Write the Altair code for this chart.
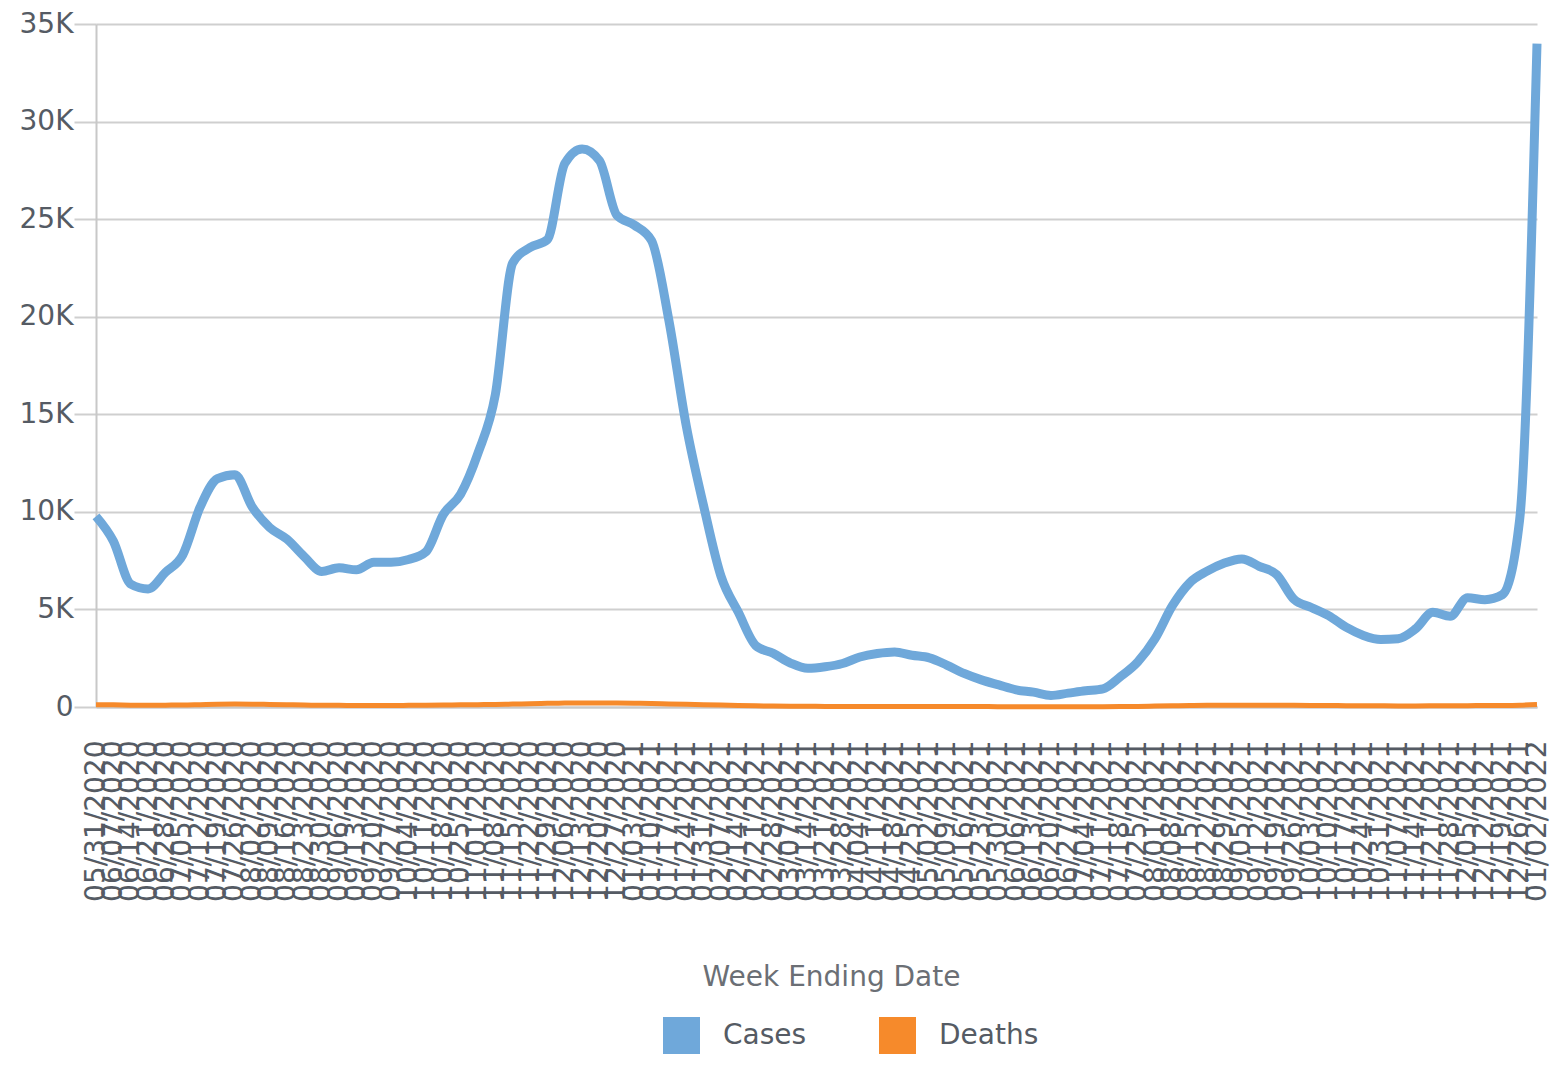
import altair as alt
import pandas as pd

# Week-ending dates (weekly categories)
weeks = [d.strftime("%m/%d/%Y") for d in pd.date_range("2020-05-31", periods=84, freq="7D")]

cases = [9770, 8500, 6300, 6050, 6900, 7800, 10250, 11700, 11900, 10250,
         9200, 8600, 7700, 6950, 7130, 7030, 7420, 7420, 7560, 7950,
         9860, 10900, 13000, 16000, 22750, 23550, 23950, 27850, 28600, 28000,
         25200, 24700, 23900, 19800, 14400, 10300, 6700, 4850, 3150, 2750,
         2250, 1980, 2060, 2230, 2560, 2740, 2820, 2650, 2520, 2150,
         1720, 1390, 1130, 880, 760, 590, 710, 830, 930, 1550,
         2310, 3500, 5190, 6370, 6960, 7380, 7590, 7210, 6790, 5520,
         5100, 4680, 4090, 3670, 3460, 3500, 4000, 4850, 4650, 5600,
         5500, 5750, 9600, 34000]

deaths = [120, 110, 95, 90, 95, 100, 120, 140, 150, 145,
          130, 115, 100, 90, 85, 80, 80, 80, 85, 90,
          100, 110, 120, 130, 150, 170, 190, 200, 210, 210,
          200, 190, 180, 160, 140, 120, 100, 80, 60, 50,
          40, 35, 30, 30, 30, 30, 30, 30, 28, 25,
          22, 20, 18, 15, 12, 10, 10, 12, 15, 20,
          30, 45, 60, 75, 85, 90, 95, 95, 90, 85,
          80, 75, 70, 65, 60, 55, 55, 60, 65, 70,
          75, 80, 95, 130]

series_names = ["Cases", "Deaths"]
series_colors = ["#6fa8da", "#f68a2b"]
y_ticks = [0, 5000, 10000, 15000, 20000, 25000, 30000, 35000]

df = pd.DataFrame({"week": weeks, "Cases": cases, "Deaths": deaths})

FONT = "DejaVu Sans"
LABEL = "#555b64"
GRID = "#cfcfcf"

xscale = alt.Scale(type="point", padding=0)
yscale = alt.Scale(domain=[0, 35000])

xaxis = alt.Axis(
    title="Week Ending Date", labelAngle=-90, labelOverlap=False, ticks=False,
    labelPadding=33, labelFontSize=28, labelColor=LABEL, labelFont=FONT,
    titleFont=FONT, titleFontSize=28, titleFontWeight="normal", titleColor="#6b6f75",
    titleY=278, titleBaseline="alphabetic", titleX=735,
    domainColor="#c8c8c8", domainWidth=2, grid=False,
)

yaxis = alt.Axis(
    title=None, values=y_ticks,
    labelExpr="datum.value == 0 ? '0' : (datum.value / 1000) + 'K'",
    tickSize=22, tickColor=GRID, tickWidth=2, labelPadding=1,
    labelFontSize=28, labelFont=FONT, labelColor=LABEL,
    gridColor=GRID, gridWidth=2, domainColor="#c8c8c8", domainWidth=2,
)

base = alt.Chart(df)

legend_layer = base.transform_fold(
    series_names, as_=["series", "value"]
).mark_square(size=0, opacity=1).encode(
    x=alt.X("week:O", sort=weeks, scale=xscale, axis=xaxis),
    y=alt.Y("value:Q", scale=yscale, axis=yaxis),
    color=alt.Color(
        "series:N",
        scale=alt.Scale(domain=series_names, range=series_colors),
        legend=alt.Legend(
            title=None, orient="none", legendX=567, legendY=993,
            direction="horizontal", symbolType="square", symbolSize=1369,
            symbolStrokeWidth=0, labelFontSize=28, labelFont=FONT,
            labelColor=LABEL, labelOffset=23, columnPadding=72, padding=0,
        ),
    ),
)

cases_line = base.mark_line(
    color=series_colors[0], strokeWidth=9, interpolate="monotone"
).encode(
    x=alt.X("week:O", sort=weeks, scale=xscale, axis=xaxis),
    y=alt.Y("Cases:Q", scale=yscale, axis=yaxis),
)

deaths_line = base.mark_line(
    color=series_colors[1], strokeWidth=5, interpolate="monotone"
).encode(
    x=alt.X("week:O", sort=weeks, scale=xscale, axis=xaxis),
    y=alt.Y("Deaths:Q", scale=yscale, axis=yaxis),
)

chart = alt.layer(legend_layer, cases_line, deaths_line).properties(
    width=1441,
    height=683,
    padding={"left": 88, "top": 16, "right": 14, "bottom": 349},
    autosize=alt.AutoSizeParams(type="none"),
).configure_view(stroke="transparent")

chart.save("out.html", embed_options={"renderer": "svg", "actions": False})
